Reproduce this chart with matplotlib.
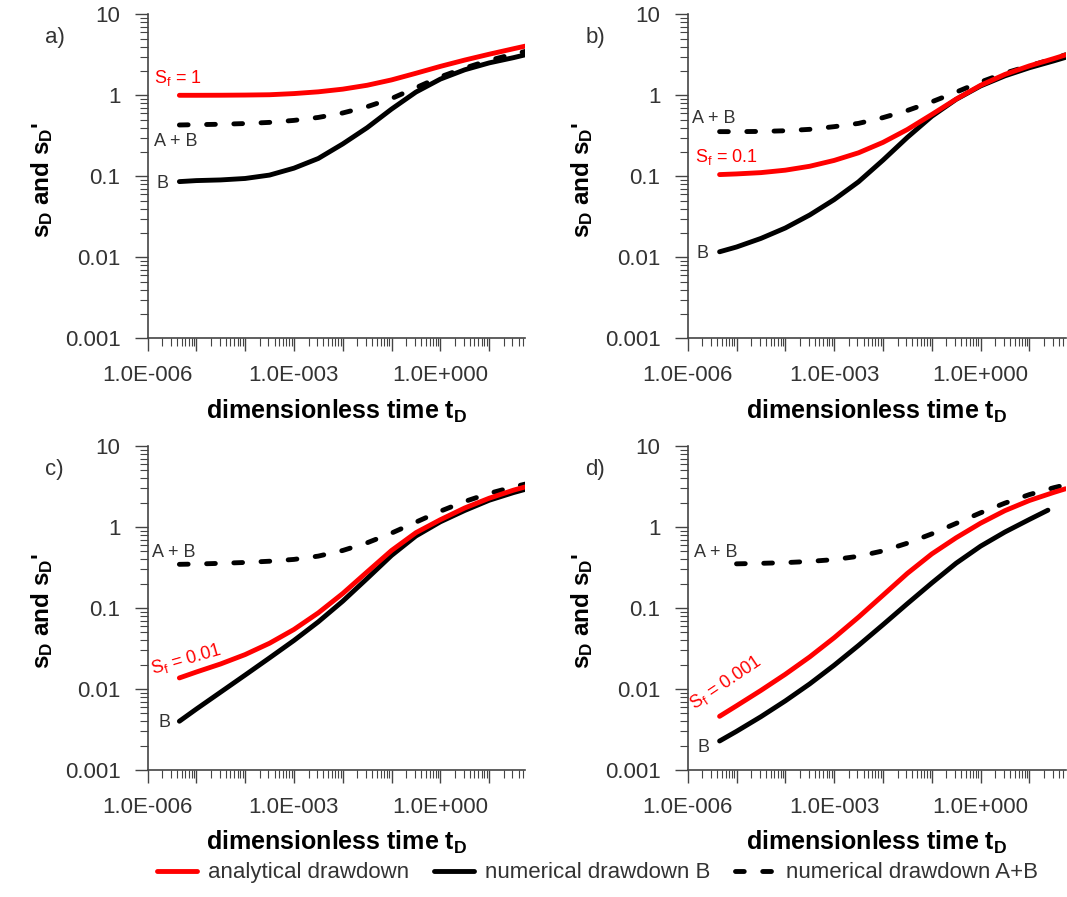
import matplotlib
matplotlib.use("Agg")
import matplotlib.pyplot as plt
from matplotlib.ticker import LogLocator, NullFormatter

plt.rcParams["font.family"] = ["Liberation Sans", "DejaVu Sans"]
plt.rcParams["mathtext.fontset"] = "custom"
plt.rcParams["mathtext.rm"] = "Liberation Sans"
plt.rcParams["mathtext.it"] = "Liberation Sans:italic"
plt.rcParams["mathtext.bf"] = "Liberation Sans:bold"

# dimensionless time t_D (read at half decades)
T = [4.5e-6, 1e-5, 3.16e-5, 1e-4, 3.16e-4, 1e-3, 3.16e-3, 1e-2, 3.16e-2,
     0.1, 0.316, 1, 3.16, 10, 31.6, 55]
T_DASH_D = T[1:]
T_BLACK_D = T[:14] + [24]

# a) Sf = 1
red_a = [1.0, 1.0, 1.002, 1.007, 1.016, 1.05, 1.104, 1.191, 1.33, 1.549, 1.871, 2.275, 2.723, 3.214, 3.758, 4.046]
black_a = [0.086, 0.0885, 0.0902, 0.094, 0.1035, 0.126, 0.166, 0.251, 0.398, 0.676, 1.096, 1.585, 2.065, 2.512, 2.917, 3.162]
dash_a = [0.43, 0.434, 0.439, 0.448, 0.463, 0.49, 0.533, 0.605, 0.723, 0.912, 1.24, 1.69, 2.17, 2.7, 3.22, 3.48]

# b) Sf = 0.1
red_b = [0.105, 0.107, 0.111, 0.119, 0.133, 0.157, 0.195, 0.262, 0.378, 0.579, 0.897, 1.327, 1.811, 2.307, 2.838, 3.148]
black_b = [0.0117, 0.0134, 0.0171, 0.023, 0.0333, 0.0515, 0.0855, 0.158, 0.302, 0.55, 0.891, 1.303, 1.738, 2.188, 2.661, 2.938]
dash_b = [0.356, 0.356, 0.358, 0.365, 0.38, 0.41, 0.45, 0.53, 0.649, 0.83, 1.094, 1.459, 1.879, 2.312, 2.818, 3.162]

# c) Sf = 0.01
red_c = [0.0137, 0.0162, 0.0204, 0.0266, 0.0367, 0.0543, 0.0871, 0.151, 0.279, 0.513, 0.851, 1.23, 1.718, 2.265, 2.851, 3.126]
black_c = [0.004, 0.00565, 0.00916, 0.01486, 0.0242, 0.0397, 0.0675, 0.1213, 0.2312, 0.4457, 0.7745, 1.159, 1.60, 2.138, 2.661, 2.917]
dash_c = [0.346, 0.349, 0.356, 0.365, 0.378, 0.398, 0.437, 0.513, 0.638, 0.841, 1.148, 1.567, 2.065, 2.6, 3.126, 3.388]

# d) Sf = 0.001
red_d = [0.0046, 0.0062, 0.0096, 0.0152, 0.0249, 0.0429, 0.0771, 0.1435, 0.2673, 0.4645, 0.7362, 1.114, 1.592, 2.123, 2.673, 2.965]
black_d = [0.00228, 0.003, 0.00455, 0.00713, 0.01156, 0.01963, 0.0345, 0.0621, 0.113, 0.2032, 0.3573, 0.5794, 0.867, 1.239, 1.614]
dash_d = [0.351, 0.356, 0.363, 0.376, 0.396, 0.435, 0.507, 0.631, 0.822, 1.109, 1.496, 1.972, 2.512, 3.055, 3.311]

PANEL_LETTERS = ["a)", "b)", "c)", "d)"]
SF_LABELS = ["S$_\\mathregular{f}$ = 1", "S$_\\mathregular{f}$ = 0.1",
             "S$_\\mathregular{f}$ = 0.01", "S$_\\mathregular{f}$ = 0.001"]
# label anchors (t, s) and rotation of the Sf label
SF_POS = [(1.35e-6, 1.42), (1.39e-6, 0.151), (1.28e-6, 0.0152), (1.39e-6, 0.0056)]
SF_ROT = [0, 0, 16, 34]
AB_POS = [(1.35e-6, 0.24), (1.24e-6, 0.45), (1.22e-6, 0.426), (1.33e-6, 0.426)]
B_POS = [(1.5e-6, 0.071), (1.55e-6, 0.0098), (1.66e-6, 0.0034), (1.62e-6, 0.00166)]

X_TICKS = [1e-6, 1e-5, 1e-4, 1e-3, 1e-2, 1e-1, 1e0, 1e1]
X_TICK_LABELS = ["1.0E-006", "", "", "1.0E-003", "", "", "1.0E+000", ""]
Y_TICKS = [1e-3, 1e-2, 1e-1, 1, 10]
Y_TICK_LABELS = ["0.001", "0.01", "0.1", "1", "10"]

RED = "#ff0000"
GREY = "#333333"
AXC = "#444444"

fig = plt.figure(figsize=(10.67, 8.97), dpi=100)

W, H = 1067, 897
boxes = [(147.5, 338.3), (687.7, 338.3), (147.5, 770), (687.7, 770)]
aw, ah = 377.8 / W, 324 / H

series = [
    (red_a, black_a, dash_a, T, T),
    (red_b, black_b, dash_b, T, T),
    (red_c, black_c, dash_c, T, T),
    (red_d, black_d, dash_d, T_BLACK_D, T_DASH_D),
]

handles = None
for i, ((x0, y0), (red, blk, dsh, tb, td)) in enumerate(zip(boxes, series)):
    ax = fig.add_axes([x0 / W, 1 - y0 / H, aw, ah])
    ax.set_xscale("log")
    ax.set_yscale("log")

    l1, = ax.plot(T, red, color=RED, lw=3.5, solid_capstyle="round",
                  solid_joinstyle="round", label="analytical drawdown", zorder=3)
    l2, = ax.plot(tb, blk, color="black", lw=3.5, solid_capstyle="round",
                  solid_joinstyle="round", label="numerical drawdown B", zorder=2)
    l3, = ax.plot(td, dsh, color="black", lw=3.5, dashes=(1.8, 3.8),
                  dash_capstyle="round", label="numerical drawdown A+B", zorder=2)
    if handles is None:
        handles = [l1, l2, l3]

    ax.set_xlim(1e-6, 55)
    ax.set_ylim(1e-3, 10)
    ax.set_xticks(X_TICKS, X_TICK_LABELS)
    ax.set_yticks(Y_TICKS, Y_TICK_LABELS)
    ax.xaxis.set_minor_locator(LogLocator(base=10, subs=range(2, 10), numticks=30))
    ax.yaxis.set_minor_locator(LogLocator(base=10, subs=range(2, 10), numticks=30))
    ax.xaxis.set_minor_formatter(NullFormatter())
    ax.yaxis.set_minor_formatter(NullFormatter())
    ax.tick_params(which="major", length=9.5, width=1.0, pad=10, labelsize=16,
                   color=AXC, labelcolor=GREY)
    ax.tick_params(which="minor", length=6, width=0.8, color=AXC)
    for s in ["top", "right"]:
        ax.spines[s].set_visible(False)
    for s in ["left", "bottom"]:
        ax.spines[s].set_color(AXC)
        ax.spines[s].set_linewidth(1.2)

    ax.set_ylabel("s$_\\mathregular{D}$ and s$_\\mathregular{D}$'", fontsize=17.5,
                  fontweight="bold")
    ax.yaxis.set_label_coords(-0.246, 0.49)
    ax.set_xlabel("dimensionless time t$_\\mathregular{D}$", fontsize=18,
                  fontweight="bold")
    ax.xaxis.set_label_coords(0.5, -0.183)

    ax.text(-0.271, 0.96, PANEL_LETTERS[i], transform=ax.transAxes,
            fontsize=16, ha="left", va="top", color=GREY)
    ax.text(*SF_POS[i], SF_LABELS[i], color=RED, fontsize=13, ha="left",
            va="baseline", rotation=SF_ROT[i], rotation_mode="anchor")
    ax.text(*AB_POS[i], "A + B", color=GREY, fontsize=13, ha="left", va="baseline")
    ax.text(*B_POS[i], "B", color=GREY, fontsize=13, ha="left", va="baseline")

fig.legend(handles, [h.get_label() for h in handles], loc="center",
           bbox_to_anchor=(0.56, 0.027), ncol=3, frameon=False, fontsize=16,
           handlelength=1.8, handletextpad=0.5, columnspacing=1.1,
           labelcolor=GREY)

fig.savefig("out.png", dpi=100)
